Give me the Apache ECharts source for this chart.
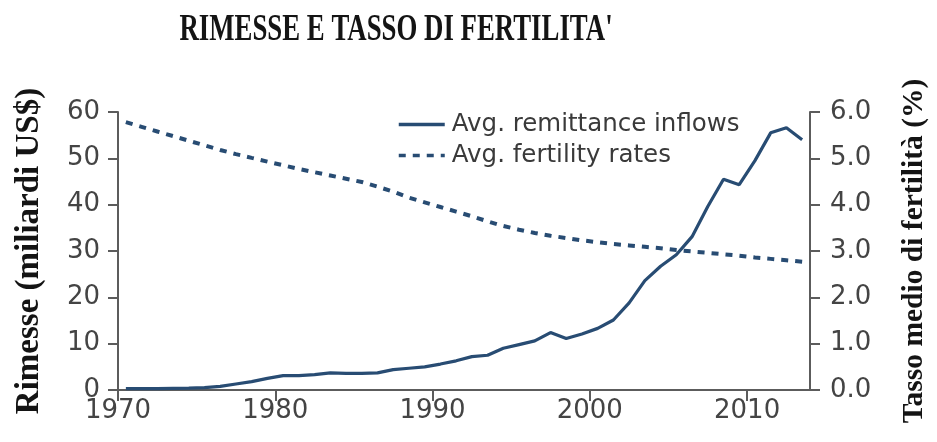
<!DOCTYPE html>
<html>
<head>
<meta charset="utf-8">
<title>Rimesse e tasso di fertilità</title>
<script src="https://cdn.jsdelivr.net/npm/echarts@6/dist/echarts.min.js"></script>
<style>
  html, body { margin: 0; padding: 0; background: #ffffff; }
  #chart { width: 937px; height: 442px; }
</style>
</head>
<body>
<div id="chart"></div>
<script>
// Annual averages, 1970-2013
const years = [
  1970, 1971, 1972, 1973, 1974, 1975, 1976, 1977, 1978, 1979,
  1980, 1981, 1982, 1983, 1984, 1985, 1986, 1987, 1988, 1989,
  1990, 1991, 1992, 1993, 1994, 1995, 1996, 1997, 1998, 1999,
  2000, 2001, 2002, 2003, 2004, 2005, 2006, 2007, 2008, 2009,
  2010, 2011, 2012, 2013
];

// Avg. remittance inflows (billions of US$)
const remittances = [
  0.3, 0.3, 0.3, 0.35, 0.4, 0.5, 0.8, 1.3, 1.8, 2.5,
  3.1, 3.1, 3.3, 3.7, 3.6, 3.6, 3.7, 4.4, 4.7, 5.0,
  5.6, 6.3, 7.2, 7.5, 9.0, 9.8, 10.6, 12.4, 11.1, 12.1,
  13.3, 15.1, 18.8, 23.6, 26.7, 29.2, 33.1, 39.6, 45.5, 44.3,
  49.5, 55.5, 56.6, 54.0
];

// Avg. fertility rates (%)
const fertility = [
  5.78, 5.68, 5.58, 5.48, 5.38, 5.28, 5.18, 5.09, 5.01, 4.93,
  4.85, 4.77, 4.70, 4.63, 4.56, 4.49, 4.39, 4.28, 4.15, 4.05,
  3.95, 3.85, 3.75, 3.64, 3.54, 3.46, 3.39, 3.33, 3.28, 3.23,
  3.19, 3.15, 3.12, 3.09, 3.06, 3.02, 2.99, 2.96, 2.93, 2.90,
  2.86, 2.83, 2.80, 2.77
];

// labelled decades on the time axis
const decadeTicks = [1970, 1980, 1990, 2000, 2010];

const seriesNames = ['Avg. remittance inflows', 'Avg. fertility rates'];
const titleText = "RIMESSE E TASSO DI FERTILITA'";
const leftAxisName = 'Rimesse (miliardi US$)';
const rightAxisName = 'Tasso medio di fertilità (%)';

// each annual value sits at the middle of its year
const pairs = (vals) => years.map((y, i) => [y + 0.5, vals[i]]);

const lineColor = '#284c73';
const axisColor = '#5c5c5c';
const tickFont = 'DejaVu Sans';
const serifFont = 'Liberation Serif';

const chart = echarts.init(document.getElementById('chart'));

chart.setOption({
  backgroundColor: '#ffffff',
  animation: false,
  grid: { left: 118, right: 122, top: 112, bottom: 52, containLabel: false },
  graphic: [{
    type: 'text',
    x: 396,
    y: 30,
    scaleX: 0.715,
    style: {
      text: titleText,
      font: 'bold 37.5px "' + serifFont + '"',
      fill: '#141414',
      textAlign: 'center',
      textVerticalAlign: 'middle'
    }
  }],
  legend: {
    orient: 'vertical',
    left: 397,
    top: 112,
    padding: 0,
    itemGap: 6,
    itemWidth: 46,
    itemHeight: 22,
    // only the line sample is shown, no marker on it
    itemStyle: { opacity: 0 },
    lineStyle: { width: 3.5 },
    textStyle: { fontFamily: tickFont, fontSize: 24.5, color: '#3a3a3a', padding: [0, 0, 0, 2] },
    data: seriesNames
  },
  xAxis: {
    type: 'value',
    min: 1970,
    max: 2014,
    interval: 10,
    splitLine: { show: false },
    axisLine: { show: true, lineStyle: { color: axisColor, width: 2 } },
    axisTick: {
      show: true,
      length: 11,
      customValues: decadeTicks,
      lineStyle: { color: axisColor, width: 2 }
    },
    axisLabel: {
      margin: 8,
      fontFamily: tickFont,
      fontSize: 26,
      color: '#444444',
      customValues: decadeTicks,
      formatter: (v) => String(v)
    }
  },
  yAxis: [{
    type: 'value',
    position: 'left',
    min: 0,
    max: 60,
    interval: 10,
    name: leftAxisName,
    nameLocation: 'middle',
    nameGap: 72,
    nameTextStyle: { fontFamily: serifFont, fontWeight: 'bold', fontSize: 33, color: '#141414' },
    splitLine: { show: false },
    axisLine: { show: true, lineStyle: { color: axisColor, width: 2 } },
    axisTick: { show: true, length: 10, lineStyle: { color: axisColor, width: 2 } },
    axisLabel: { margin: 18, fontFamily: tickFont, fontSize: 26, color: '#444444' }
  }, {
    type: 'value',
    position: 'right',
    min: 0,
    max: 6,
    interval: 1,
    name: rightAxisName,
    nameLocation: 'middle',
    nameGap: 89,
    nameTextStyle: { fontFamily: serifFont, fontWeight: 'bold', fontSize: 29.5, color: '#141414' },
    splitLine: { show: false },
    axisLine: { show: true, lineStyle: { color: axisColor, width: 2 } },
    axisTick: { show: true, length: 10, lineStyle: { color: axisColor, width: 2 } },
    axisLabel: {
      margin: 20,
      fontFamily: tickFont,
      fontSize: 26,
      color: '#444444',
      formatter: (v) => v.toFixed(1)
    }
  }],
  series: [{
    name: seriesNames[0],
    type: 'line',
    yAxisIndex: 0,
    data: pairs(remittances),
    showSymbol: false,
    symbol: 'none',
    lineStyle: { color: lineColor, width: 3.2 },
    itemStyle: { color: lineColor },
    z: 3
  }, {
    name: seriesNames[1],
    type: 'line',
    yAxisIndex: 1,
    data: pairs(fertility),
    showSymbol: false,
    symbol: 'none',
    lineStyle: { color: lineColor, width: 4, type: [7, 7] },
    itemStyle: { color: lineColor },
    z: 2
  }]
});
</script>
</body>
</html>
